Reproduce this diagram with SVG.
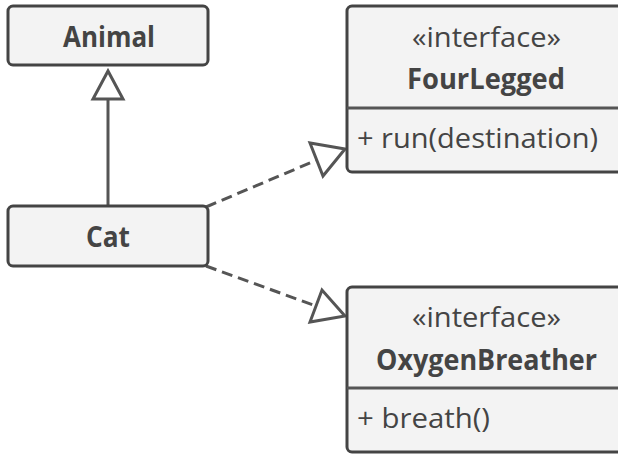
<svg xmlns="http://www.w3.org/2000/svg" width="618" height="454" viewBox="0 0 618 454">
<style>
.box{fill:#f3f3f3;stroke:#444;stroke-width:3}
.t{font-family:"Open Sans","Noto Sans",sans-serif;fill:#444;font-size:28px}
.b{font-weight:bold;text-anchor:middle;font-size:28px}
.c{text-anchor:middle}
.ln{stroke:#555;stroke-width:3;fill:none}
.dash{stroke-dasharray:11 6}
.tri{fill:#fff;stroke:#555;stroke-width:3;stroke-linejoin:miter}
</style>
<rect width="618" height="454" fill="#fff"/>
<g id="connectors">
<line class="ln" x1="108" y1="98" x2="108" y2="206"/>
<polygon class="tri" points="108,71 93,99 123,99"/>
<line class="ln dash" x1="206" y1="207" x2="317" y2="160"/>
<polygon class="tri" points="345,149 310,143 323,176"/>
<line class="ln dash" x1="206" y1="266" x2="316" y2="306"/>
<polygon class="tri" points="345,316 322,290 310,322"/>
</g>
<g id="Animal">
<rect class="box" x="8" y="6" width="200" height="59" rx="5"/>
<text class="t b" x="109" y="47" textLength="92" lengthAdjust="spacingAndGlyphs">Animal</text>
</g>
<g id="Cat">
<rect class="box" x="8" y="206" width="200" height="60" rx="5"/>
<text class="t b" x="108" y="247" textLength="44" lengthAdjust="spacingAndGlyphs">Cat</text>
</g>
<g id="FourLegged">
<rect class="box" x="347" y="6" width="290" height="166" rx="5"/>
<line class="ln" x1="347" y1="108" x2="620" y2="108" stroke="#444"/>
<text class="t c" x="486.5" y="47" textLength="149" lengthAdjust="spacingAndGlyphs">«interface»</text>
<text class="t b" x="486" y="89" textLength="158" lengthAdjust="spacingAndGlyphs" style="font-size:29px">FourLegged</text>
<text class="t" x="357" y="148" textLength="241" lengthAdjust="spacingAndGlyphs">+ run(destination)</text>
</g>
<g id="OxygenBreather">
<rect class="box" x="347" y="287" width="290" height="165" rx="5"/>
<line class="ln" x1="347" y1="388" x2="620" y2="388" stroke="#444"/>
<text class="t c" x="486.5" y="327" textLength="149" lengthAdjust="spacingAndGlyphs">«interface»</text>
<text class="t b" x="486.5" y="370" textLength="221" lengthAdjust="spacingAndGlyphs" style="font-size:29px">OxygenBreather</text>
<text class="t" x="357" y="428" textLength="133" lengthAdjust="spacingAndGlyphs">+ breath()</text>
</g>
</svg>
